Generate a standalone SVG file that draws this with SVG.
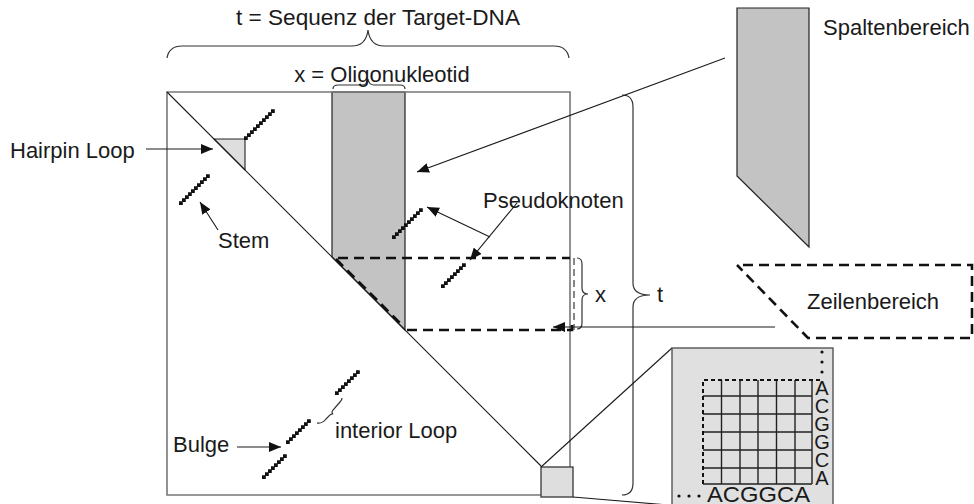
<svg xmlns="http://www.w3.org/2000/svg" xmlns:xlink="http://www.w3.org/1999/xlink" width="974" height="504" viewBox="0 0 974 504">
<style>
text{font-family:"Liberation Sans",Arial,sans-serif;font-size:22px;fill:#1a1a1a}
.frame{fill:none;stroke:#777;stroke-width:1.6}
.thin{fill:none;stroke:#1a1a1a;stroke-width:1.1}
.brace{fill:none;stroke:#333;stroke-width:1.2}
.dash{fill:none;stroke:#111;stroke-width:2.6;stroke-dasharray:10 6}
.dashthin{fill:none;stroke:#111;stroke-width:1;stroke-dasharray:7 4}
.grid{fill:none;stroke:#222;stroke-width:1.4}
.dots{fill:#111}
.seq{font-size:20px}
</style>
<defs>
<marker id="ah" viewBox="0 0 12 10" refX="12" refY="5" markerWidth="12" markerHeight="10" markerUnits="userSpaceOnUse" orient="auto"><path d="M0,0 L12,5 L0,10 z" fill="#111"/></marker>
<path id="chain10" d="M0,0h3.8v-3.8h-3.8z M3,-3h3.8v-3.8h-3.8z M6,-6h3.8v-3.8h-3.8z M9,-9h3.8v-3.8h-3.8z M12,-12h3.8v-3.8h-3.8z M15,-15h3.8v-3.8h-3.8z M18,-18h3.8v-3.8h-3.8z M21,-21h3.8v-3.8h-3.8z M24,-24h3.8v-3.8h-3.8z M27,-27h3.8v-3.8h-3.8z"/>
<path id="chain8" d="M0,0h3.8v-3.8h-3.8z M3,-3h3.8v-3.8h-3.8z M6,-6h3.8v-3.8h-3.8z M9,-9h3.8v-3.8h-3.8z M12,-12h3.8v-3.8h-3.8z M15,-15h3.8v-3.8h-3.8z M18,-18h3.8v-3.8h-3.8z M21,-21h3.8v-3.8h-3.8z"/>
</defs>

<g id="matrix">
<polygon points="332,92 405,92 405,330 332,257" fill="#c3c3c3" stroke="#222" stroke-width="1.2"/>
<polygon points="214,139 245,139 245,170" fill="#dedede" stroke="#222" stroke-width="1.1"/>
<path class="frame" d="M570,467 L570,92 L167,92 L167,495 L541,495"/>
<line class="thin" x1="167" y1="92" x2="541" y2="466"/>
<rect x="541" y="467" width="32" height="30" fill="#dedede" stroke="#444" stroke-width="1.4"/>
</g>

<g id="zeilen-in-matrix">
<path class="dash" d="M338,258 L570,258"/>
<path class="dash" d="M407,330 L572,330 L572,322"/>
<path class="dash" d="M336,259 L404,327"/>
<line class="dashthin" x1="574" y1="258" x2="574" y2="330"/>
</g>

<g id="chains" class="dots">
<use xlink:href="#chain10" x="244" y="140"/>
<use xlink:href="#chain10" x="179" y="205"/>
<use xlink:href="#chain10" x="392" y="239"/>
<use xlink:href="#chain8" x="441" y="288"/>
<use xlink:href="#chain8" x="335" y="395"/>
<use xlink:href="#chain8" x="286" y="444"/>
<use xlink:href="#chain8" x="262" y="479"/>
</g>

<g id="braces">
<path class="brace" d="M167,58 Q169,46 182,46 L352,46 Q366,46 368,30 Q370,46 384,46 L554,46 Q567,46 569,58"/>
<path class="brace" d="M333,89 Q333,85 338,85 L362,85 Q367,85 368,79 Q369,85 374,85 L400,85 Q405,85 405,89"/>
<path class="brace" d="M622,95 Q633,95 633,107 L633,283 Q633,295 650,295 Q633,295 633,307 L633,483 Q633,495 622,495"/>
<path class="brace" d="M577,258 Q582,258 582,264 L582,288 Q582,294 588,294 Q582,294 582,300 L582,323 Q582,329 577,329"/>
<path class="brace" d="M317,423 Q322,424 326,419 L329,416 Q330,414 333,414 Q331,413 333,410 L340,402 Q342,400 342,398"/>
</g>

<g id="labels">
<text x="378" y="25" text-anchor="middle" textLength="284" lengthAdjust="spacingAndGlyphs">t = Sequenz der Target-DNA</text>
<text x="382" y="82" text-anchor="middle">x = Oligonukleotid</text>
<text x="10" y="158">Hairpin Loop</text>
<text x="218" y="248">Stem</text>
<text x="483" y="208">Pseudoknoten</text>
<text x="173" y="452">Bulge</text>
<text x="335" y="438">interior Loop</text>
<text x="595" y="302">x</text>
<text x="657" y="302">t</text>
</g>

<g id="connectors">
<line class="thin" x1="146" y1="149" x2="213" y2="149" marker-end="url(#ah)"/>
<line class="thin" x1="218" y1="230" x2="200" y2="202" marker-end="url(#ah)"/>
<line class="thin" x1="490" y1="237" x2="427" y2="207" marker-end="url(#ah)"/>
<line class="thin" x1="517" y1="203" x2="470" y2="260" marker-end="url(#ah)"/>
<line class="thin" x1="237" y1="447" x2="281" y2="447" marker-end="url(#ah)"/>
<line class="thin" x1="725" y1="58" x2="417" y2="172" marker-end="url(#ah)"/>
<line class="thin" x1="775" y1="327" x2="553" y2="327" marker-end="url(#ah)"/>
<line class="thin" x1="541" y1="467" x2="672" y2="348"/>
<line class="thin" x1="573" y1="497" x2="680" y2="506"/>
</g>

<g id="spaltenbereich">
<polygon points="737,8 809,8 809,247 737,176" fill="#c3c3c3" stroke="#222" stroke-width="1.2"/>
<text x="823" y="35">Spaltenbereich</text>
</g>

<g id="zeilenbereich">
<path class="dash" d="M743,265 L972,265 L972,338 L808,338 L737,265"/>
<text x="807" y="309">Zeilenbereich</text>
</g>

<g id="detail">
<rect x="672" y="348" width="161" height="170" fill="#e0e0e0" stroke="#555" stroke-width="1.4"/>
<path class="grid" d="M703,396 H812 M703,414 H812 M703,432 H812 M703,450 H812 M703,468 H812 M703,484 H812 M721.5,380 V484 M740,380 V484 M758,380 V484 M776.5,380 V484 M795,380 V484 M812,380 V484"/>
<path fill="none" stroke="#111" stroke-width="2" stroke-dasharray="4 3" d="M703,484 V380 H823"/>
<g class="dots">
<circle cx="822" cy="352" r="1.6"/><circle cx="822" cy="362" r="1.6"/><circle cx="822" cy="372" r="1.6"/>
<circle cx="679" cy="496" r="1.6"/><circle cx="689" cy="496" r="1.6"/><circle cx="699" cy="496" r="1.6"/>
</g>
<text class="seq" text-anchor="middle"><tspan x="822" y="395">A</tspan><tspan x="822" y="413">C</tspan><tspan x="822" y="431">G</tspan><tspan x="822" y="449">G</tspan><tspan x="822" y="467">C</tspan><tspan x="822" y="485">A</tspan></text>
<text x="707" y="502" textLength="103" lengthAdjust="spacingAndGlyphs">ACGGCA</text>
</g>
</svg>
